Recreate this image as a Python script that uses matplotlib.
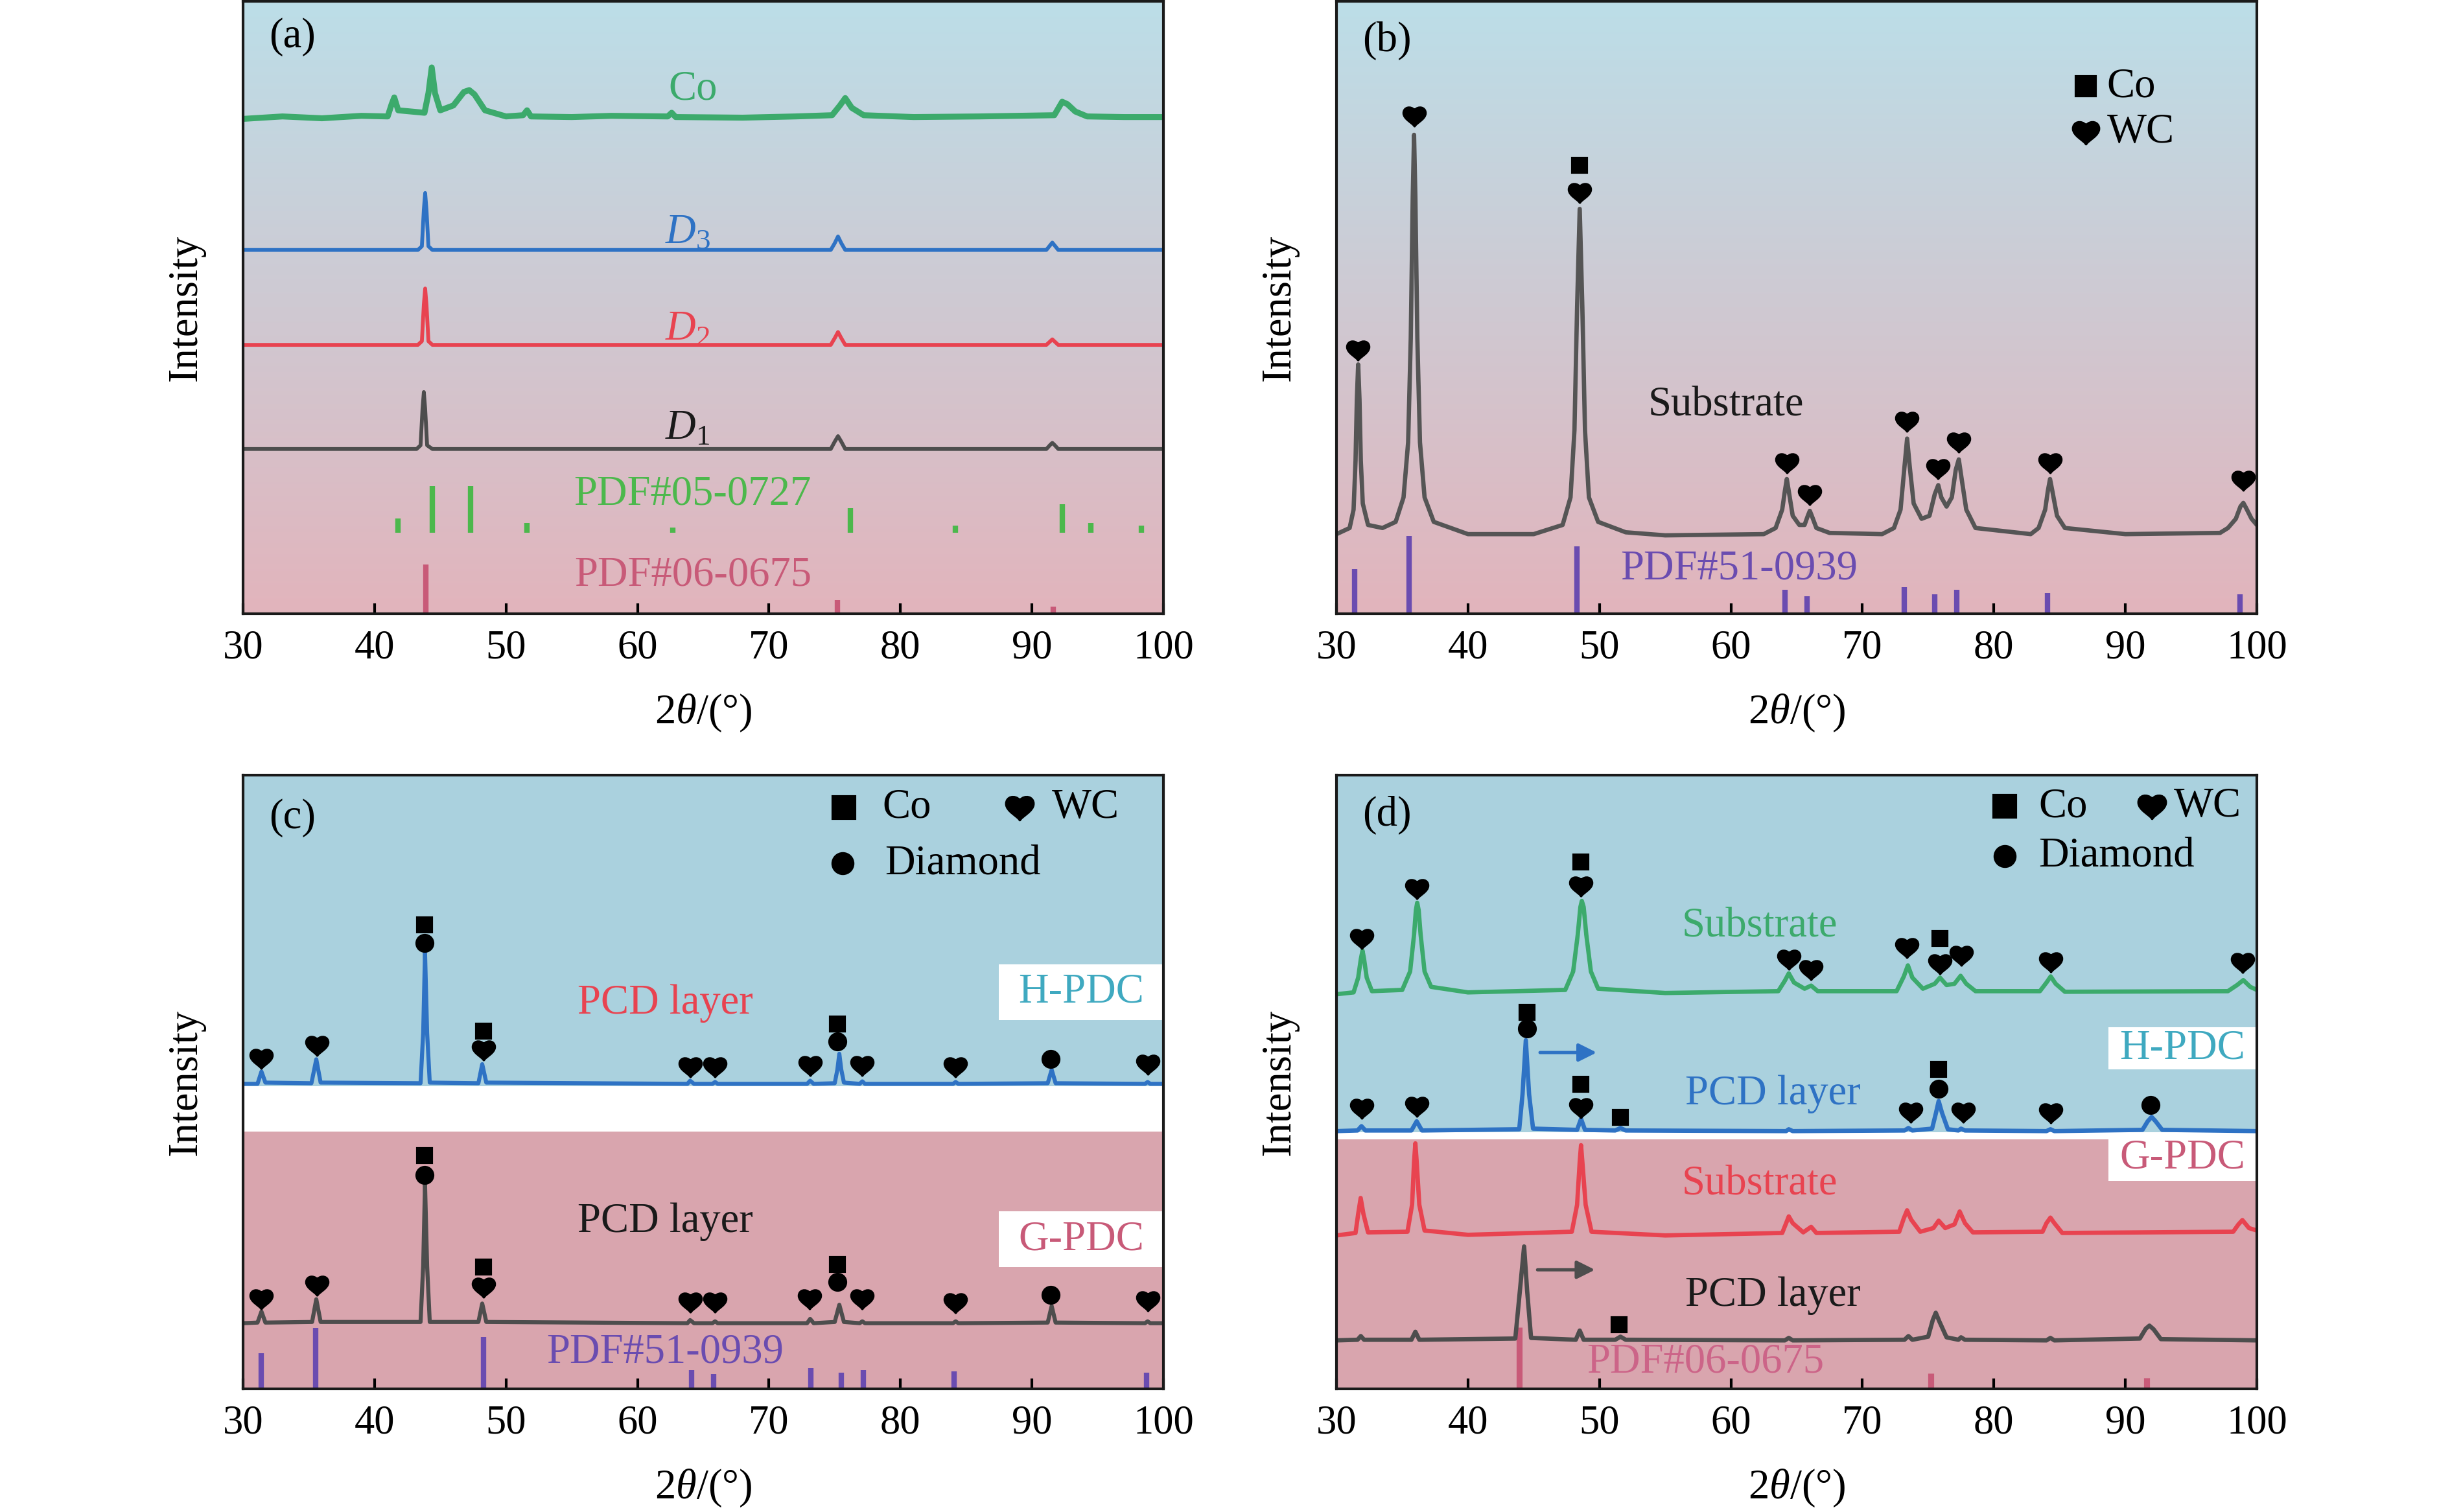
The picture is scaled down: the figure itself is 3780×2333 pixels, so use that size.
import numpy as np
import matplotlib
matplotlib.use("Agg")
import matplotlib.pyplot as plt
from matplotlib.path import Path
from matplotlib.patches import Rectangle

plt.rcParams['font.family'] = ['Liberation Serif', 'DejaVu Sans']
plt.rcParams['mathtext.fontset'] = 'custom'
plt.rcParams['mathtext.rm'] = 'Liberation Serif'
plt.rcParams['mathtext.it'] = 'Liberation Serif:italic'
plt.rcParams['mathtext.bf'] = 'Liberation Serif:bold'

# ---------------- data (2theta, relative intensity) ----------------
# panel (a)
a_co = [(30, .808), (33, .812), (36, .809), (39, .813), (41.0, .812), (41.3, .832), (41.5, .843), (41.8, .822),
        (43.8, .818), (44.1, .85), (44.35, .892), (44.6, .85), (45.0, .822), (46.0, .83), (46.8, .852),
        (47.2, .855), (47.6, .848), (48.4, .822), (50, .812), (51.3, .814), (51.6, .822), (51.9, .812),
        (55, .811), (58, .813), (62.3, .812), (62.6, .818), (62.9, .811), (68, .81), (72, .812), (74.8, .814),
        (75.4, .83), (75.8, .842), (76.3, .826), (77.2, .814), (81, .811), (86, .812), (91.7, .814),
        (92.3, .836), (92.7, .832), (93.3, .82), (94.2, .812), (97, .811), (100, .811)]
a_d3 = [(30, .594), (43.3, .594), (43.6, .60), (43.75, .66), (43.85, .687), (43.95, .66), (44.1, .60), (44.4, .594),
        (74.7, .594), (75.0, .605), (75.25, .616), (75.5, .605), (75.8, .594), (91.1, .594), (91.4, .602),
        (91.55, .606), (91.7, .602), (92.0, .594), (100, .594)]
a_d2 = [(30, .439), (43.3, .439), (43.6, .445), (43.75, .505), (43.85, .531), (43.95, .505), (44.1, .445), (44.4, .439),
        (74.7, .439), (75.0, .450), (75.25, .460), (75.5, .450), (75.8, .439), (91.1, .439), (91.4, .445),
        (91.55, .448), (91.7, .445), (92.0, .439), (100, .439)]
a_d1 = [(30, .269), (43.2, .269), (43.5, .275), (43.65, .335), (43.75, .362), (43.85, .335), (44.0, .275), (44.4, .269),
        (74.7, .269), (75.0, .281), (75.25, .290), (75.5, .281), (75.8, .269), (91.1, .269), (91.4, .276),
        (91.55, .279), (91.7, .276), (92.0, .269), (100, .269)]
pdf0727_pos = [41.8, 44.4, 47.3, 51.6, 62.7, 76.2, 84.2, 92.3, 94.5, 98.3]
pdf0727_top = [.156, .208, .208, .148, .141, .173, .144, .179, .148, .144]
pdf0727_base = .132
pdf0675_pos = [43.9, 75.2, 91.6]
pdf0675_top_a = [.08, .022, .012]
pdf0675_top_d = [.10, .025, .018]

# panel (b)
b_sub = [(30, .13), (31.0, .14), (31.3, .17), (31.45, .25), (31.55, .35), (31.65, .407), (31.75, .35),
         (31.85, .25), (32.0, .18), (32.4, .145), (33.5, .14), (34.5, .15), (35.1, .19), (35.45, .28),
         (35.65, .45), (35.8, .68), (35.9, .782), (36.0, .68), (36.15, .45), (36.35, .28), (36.7, .19),
         (37.4, .15), (40, .13), (45, .13), (47.2, .145), (47.8, .19), (48.1, .3), (48.3, .5), (48.5, .661),
         (48.7, .5), (48.9, .3), (49.2, .19), (49.9, .15), (52, .133), (55, .128), (62.5, .13), (63.4, .14),
         (63.9, .17), (64.1, .2), (64.25, .22), (64.4, .2), (64.7, .16), (65.2, .145), (65.6, .145),
         (65.85, .16), (66.0, .168), (66.15, .16), (66.5, .14), (67.5, .132), (71.5, .13), (72.4, .14),
         (72.9, .17), (73.2, .24), (73.4, .286), (73.6, .24), (73.9, .18), (74.5, .155), (75.1, .16),
         (75.5, .195), (75.77, .21), (76.0, .19), (76.4, .175), (76.8, .19), (77.1, .235), (77.33, .252),
         (77.55, .22), (77.9, .17), (78.6, .14), (82.8, .13), (83.4, .14), (83.9, .17), (84.1, .2),
         (84.27, .22), (84.45, .2), (84.8, .16), (85.4, .14), (90, .13), (97.2, .132), (97.8, .14),
         (98.4, .155), (98.75, .175), (98.97, .181), (99.2, .172), (99.6, .155), (100, .145)]
wc_pos = [31.4, 35.5, 48.3, 64.1, 65.8, 73.2, 75.5, 77.2, 84.1, 98.7]
wc_top_b = [.073, .127, .11, .039, .029, .043, .032, .039, .034, .032]
wc_top_c = [.058, .099, .085, .031, .024, .034, .026, .031, .028, .026]
b_hearts = [(31.65, .431), (35.9, .813), (48.5, .688), (64.25, .247), (66.0, .195), (73.4, .314),
            (75.77, .237), (77.33, .28), (84.27, .247), (98.97, .218)]
b_squares = [(48.5, .732)]

# panel (c)
c_h = [(30, .497), (31.1, .497), (31.4, .517), (31.7, .499), (35.2, .498), (35.57, .537), (35.9, .499),
       (43.5, .498), (43.7, .58), (43.84, .711), (44.0, .58), (44.2, .499), (47.9, .498), (48.19, .529),
       (48.5, .499), (63.8, .497), (64.0, .502), (64.3, .497), (65.7, .497), (65.9, .500), (66.1, .497),
       (72.9, .497), (73.13, .502), (73.4, .497), (75.0, .498), (75.2, .52), (75.35, .546), (75.5, .52),
       (75.7, .499), (76.9, .497), (77.1, .501), (77.3, .497), (84.0, .497), (84.2, .5), (84.4, .497),
       (91.2, .498), (91.5, .52), (91.8, .498), (98.6, .497), (98.8, .5), (99.0, .497), (100, .497)]
c_g = [(30, .107), (31.1, .108), (31.4, .126), (31.7, .108), (35.25, .109), (35.57, .146), (35.9, .109),
       (43.5, .109), (43.7, .2), (43.84, .333), (44.0, .2), (44.2, .109), (47.9, .109), (48.19, .139),
       (48.5, .109), (63.8, .107), (64.0, .112), (64.3, .107), (65.7, .107), (65.9, .11), (66.1, .107),
       (72.9, .107), (73.13, .114), (73.4, .107), (75.0, .109), (75.2, .125), (75.35, .137), (75.5, .125),
       (75.7, .109), (76.9, .107), (77.1, .11), (77.3, .107), (84.0, .107), (84.2, .11), (84.4, .107),
       (91.2, .108), (91.5, .135), (91.8, .108), (98.6, .107), (98.8, .11), (99.0, .107), (100, .107)]
c_hearts = [(31.4, .539), (35.6, .56), (48.3, .552), (64.0, .525), (65.9, .525), (73.13, .527), (77.1, .527),
            (84.2, .525), (98.8, .529),
            (31.4, .147), (35.6, .169), (48.3, .166), (64.0, .142), (65.9, .142), (73.1, .147), (77.1, .147),
            (84.2, .14), (98.8, .144)]
c_squares = [(43.8, .756), (48.3, .583), (75.2, .594), (43.8, .38), (48.3, .198), (75.2, .203)]
c_circles = [(43.8, .726), (75.2, .566), (91.4, .537), (43.8, .348), (75.2, .174), (91.4, .153)]

# panel (d)
d_green = [(30, .643), (31.3, .646), (31.65, .67), (31.85, .70), (31.98, .714), (32.1, .70), (32.3, .67),
           (32.7, .648), (35.0, .65), (35.6, .68), (35.9, .74), (36.04, .78), (36.14, .792), (36.25, .78),
           (36.4, .74), (36.7, .68), (37.2, .655), (40, .646), (47.4, .65), (48.0, .68), (48.35, .74),
           (48.55, .785), (48.66, .795), (48.8, .785), (49.0, .74), (49.35, .68), (49.9, .652), (55, .645),
           (63.6, .648), (64.1, .665), (64.4, .677), (64.8, .662), (65.6, .652), (66.1, .657), (66.6, .648),
           (72.6, .648), (73.15, .672), (73.46, .69), (73.8, .67), (74.6, .652), (75.5, .66), (75.9, .67),
           (76.4, .658), (77.0, .66), (77.47, .673), (77.9, .66), (78.6, .648), (83.5, .648), (84.0, .662),
           (84.32, .672), (84.7, .66), (85.4, .647), (97.8, .648), (98.5, .658), (98.97, .666), (99.5, .655),
           (100, .65)]
d_blue = [(30, .42), (31.6, .421), (31.9, .428), (32.2, .421), (35.7, .421), (36.1, .436), (36.5, .421),
          (43.9, .423), (44.15, .48), (44.4, .568), (44.65, .48), (44.95, .424), (48.3, .422), (48.6, .44),
          (48.9, .422), (51.2, .421), (51.6, .425), (52.0, .421), (64.2, .42), (64.4, .423), (64.7, .42),
          (73.2, .421), (73.5, .425), (73.8, .421), (75.3, .424), (75.6, .45), (75.8, .469), (76.05, .45),
          (76.5, .423), (77.3, .421), (77.5, .424), (77.8, .421), (84.0, .42), (84.3, .423), (84.6, .42),
          (91.3, .422), (91.7, .436), (92.0, .443), (92.3, .436), (92.8, .422), (100, .42)]
d_red = [(30, .25), (31.45, .254), (31.65, .285), (31.84, .311), (32.05, .285), (32.4, .255), (35.4, .256),
         (35.75, .30), (35.9, .37), (36.0, .40), (36.1, .37), (36.3, .30), (36.7, .258), (40, .251),
         (47.9, .256), (48.3, .30), (48.5, .37), (48.6, .397), (48.7, .37), (48.95, .30), (49.4, .256),
         (55, .25), (63.9, .254), (64.2, .27), (64.4, .281), (64.7, .27), (65.5, .255), (66.1, .264),
         (66.5, .254), (72.8, .256), (73.15, .278), (73.4, .291), (73.7, .276), (74.4, .256), (75.4, .262),
         (75.8, .274), (76.3, .262), (77.0, .268), (77.4, .289), (77.8, .27), (78.4, .255), (83.7, .256),
         (84.0, .27), (84.3, .279), (84.6, .27), (85.2, .254), (98.2, .256), (98.6, .268), (98.9, .275),
         (99.4, .262), (100, .258)]
d_gray = [(30, .079), (31.6, .08), (31.85, .086), (32.1, .08), (35.7, .08), (36.0, .093), (36.3, .08),
          (43.6, .082), (43.95, .16), (44.27, .232), (44.5, .16), (44.8, .083), (48.2, .08), (48.5, .095),
          (48.8, .08), (51.2, .08), (51.6, .085), (52.0, .08), (64.1, .079), (64.4, .083), (64.7, .079),
          (73.2, .08), (73.5, .086), (73.8, .08), (75.0, .085), (75.35, .112), (75.58, .124), (75.85, .11),
          (76.4, .084), (77.3, .08), (77.5, .084), (77.8, .08), (84.0, .079), (84.3, .083), (84.6, .079),
          (91.1, .082), (91.55, .098), (91.83, .103), (92.15, .097), (92.7, .081), (100, .079)]
d_hearts = [(31.9, .734), (36.1, .815), (48.6, .819), (64.4, .70), (66.1, .683), (73.4, .719), (75.9, .693),
            (77.5, .706), (84.3, .696), (98.9, .695),
            (31.9, .457), (36.1, .46), (48.6, .458), (73.7, .451), (77.66, .451), (84.3, .45)]
d_squares = [(48.6, .858), (75.9, .734), (44.5, .614), (48.6, .496), (51.6, .442), (75.8, .521), (51.5, .105)]
d_circles = [(44.5, .587), (75.8, .489), (91.9, .463)]

xticks = [30, 40, 50, 60, 70, 80, 90, 100]

# ---------------- style ----------------
C_GREEN = '#3caa6c'
C_BLUE = '#2e72c4'
C_RED = '#e84350'
C_GRAY = '#4d4d4d'
C_STICK_G = '#4cb84c'
C_PINK = '#c85a78'
C_PURPLE = '#6a4cb0'
C_TEAL = '#3fa9c0'
BG_BLUE = '#aad1de'
BG_PINK = '#d9a5ae'
FS = 15.5

# card-suit heart, point down
hv = [(0, -0.9), (-0.12, -0.62), (-1, -0.25), (-1, 0.3), (-1, 0.8), (-0.4, 0.98), (0, 0.55),
      (0.4, 0.98), (1, 0.8), (1, 0.3), (1, -0.25), (0.12, -0.62), (0, -0.9), (0, -0.9)]
hc = [Path.MOVETO] + [Path.CURVE4] * 12 + [Path.CLOSEPOLY]
HEART = Path(hv, hc)

fig = plt.figure(figsize=(12.6, 2333 / 300), dpi=300)
W, H = 3780, 2333


def make_ax(l, r, t, b):
    return fig.add_axes([l / W, 1 - b / H, (r - l) / W, (b - t) / H])


axa = make_ax(375, 1795, 2, 947)
axb = make_ax(2062, 3482, 2, 947)
axc = make_ax(375, 1795, 1196, 2143)
axd = make_ax(2062, 3482, 1196, 2143)

for ax in (axa, axb, axc, axd):
    ax.set_xlim(30, 100)
    ax.set_ylim(0, 1)
    ax.set_xticks(xticks)
    ax.set_yticks([])
    ax.tick_params(axis='x', direction='in', length=3.8, width=1.0, labelsize=15, pad=6, top=False)
    for s in ax.spines.values():
        s.set_linewidth(1.0)
        s.set_color('#1a1a1a')
        s.set_zorder(10)
    ax.set_xlabel(r'2$\theta$/(°)', fontsize=FS, labelpad=9)
    ax.set_ylabel('Intensity', fontsize=FS, labelpad=14)


def gradient_bg(ax):
    top = np.array([188, 222, 232]) / 255
    bot = np.array([226, 180, 188]) / 255
    t = np.linspace(0, 1, 256)[:, None]
    img = top[None, :] * (1 - t) + bot[None, :] * t
    img = img[:, None, :]
    ax.imshow(img, extent=[30, 100, 0, 1], aspect='auto', origin='upper', zorder=0, interpolation='bilinear')
    ax.set_xlim(30, 100)
    ax.set_ylim(0, 1)


def curve(ax, pts, color, lw):
    x, y = zip(*pts)
    ax.plot(x, y, color=color, lw=lw, zorder=3, solid_joinstyle='round')


def marks(ax, pts, marker, ms, color='k'):
    if not pts:
        return
    x, y = zip(*pts)
    ax.plot(x, y, ls='none', marker=marker, ms=ms, color=color, mec=color, zorder=5)


# ---- (a)
gradient_bg(axa)
curve(axa, a_co, C_GREEN, 2.2)
curve(axa, a_d3, C_BLUE, 1.4)
curve(axa, a_d2, C_RED, 1.4)
curve(axa, a_d1, C_GRAY, 1.4)
axa.vlines(pdf0727_pos, pdf0727_base, pdf0727_top, color=C_STICK_G, lw=2.0, zorder=2)
axa.vlines(pdf0675_pos, 0, pdf0675_top_a, color=C_PINK, lw=2.0, zorder=2)
axa.text(32.0, .942, '(a)', fontsize=FS, va='center', ha='left')
axa.text(64.2, .856, 'Co', color=C_GREEN, fontsize=FS, ha='center', va='center')
axa.text(63.8, .622, r'$D_3$', color=C_BLUE, fontsize=FS, ha='center', va='center')
axa.text(63.8, .464, r'$D_2$', color=C_RED, fontsize=FS, ha='center', va='center')
axa.text(63.8, .302, r'$D_1$', color='#1a1a1a', fontsize=FS, ha='center', va='center')
axa.text(64.2, .195, 'PDF#05-0727', color=C_STICK_G, fontsize=FS, ha='center', va='center')
axa.text(64.2, .063, 'PDF#06-0675', color=C_PINK, fontsize=FS, ha='center', va='center')

# ---- (b)
gradient_bg(axb)
curve(axb, b_sub, '#555555', 1.6)
axb.vlines(wc_pos, 0, wc_top_b, color=C_PURPLE, lw=2.0, zorder=2)
marks(axb, b_hearts, HEART, 8)
marks(axb, b_squares, 's', 5.5)
axb.text(32.0, .935, '(b)', fontsize=FS, va='center', ha='left')
axb.text(59.6, .341, 'Substrate', fontsize=FS, ha='center', va='center', color='#1a1a1a')
axb.text(60.6, .073, 'PDF#51-0939', color=C_PURPLE, fontsize=FS, ha='center', va='center')
marks(axb, [(87.0, .861)], 's', 7)
marks(axb, [(87.0, .786)], HEART, 9.5)
axb.text(88.6, .861, 'Co', fontsize=FS, ha='left', va='center')
axb.text(88.6, .786, 'WC', fontsize=FS, ha='left', va='center')

# ---- (c)
axc.axhspan(0.493, 1, color=BG_BLUE, zorder=0, lw=0)
axc.axhspan(0, 0.419, color=BG_PINK, zorder=0, lw=0)
axc.add_patch(Rectangle((87.5, .601), 12.5, .091, color='white', zorder=1, lw=0))
axc.add_patch(Rectangle((87.5, .198), 12.5, .091, color='white', zorder=1, lw=0))
curve(axc, c_h, C_BLUE, 1.5)
curve(axc, c_g, C_GRAY, 1.5)
axc.vlines(wc_pos, 0, wc_top_c, color=C_PURPLE, lw=2.0, zorder=2)
marks(axc, c_hearts, HEART, 8)
marks(axc, c_squares, 's', 5.5)
marks(axc, c_circles, 'o', 6)
axc.text(32.0, .93, '(c)', fontsize=FS, va='center', ha='left')
axc.text(62.1, .628, 'PCD layer', color=C_RED, fontsize=FS, ha='center', va='center')
axc.text(62.1, .272, 'PCD layer', color='#1a1a1a', fontsize=FS, ha='center', va='center')
axc.text(93.75, .647, 'H-PDC', color=C_TEAL, fontsize=FS, ha='center', va='center')
axc.text(93.75, .243, 'G-PDC', color=C_PINK, fontsize=FS, ha='center', va='center')
axc.text(62.1, .059, 'PDF#51-0939', color=C_PURPLE, fontsize=FS, ha='center', va='center')
marks(axc, [(75.7, .947)], 's', 8)
marks(axc, [(89.05, .947)], HEART, 10)
marks(axc, [(75.6, .856)], 'o', 7.5)
axc.text(78.6, .947, 'Co', fontsize=FS, ha='left', va='center')
axc.text(91.5, .947, 'WC', fontsize=FS, ha='left', va='center')
axc.text(78.8, .856, 'Diamond', fontsize=FS, ha='left', va='center')

# ---- (d)
axd.axhspan(0.418, 1, color=BG_BLUE, zorder=0, lw=0)
axd.axhspan(0, 0.407, color=BG_PINK, zorder=0, lw=0)
axd.add_patch(Rectangle((88.7, .521), 11.3, .068, color='white', zorder=1, lw=0))
axd.add_patch(Rectangle((88.7, .339), 11.3, .079, color='white', zorder=1, lw=0))
curve(axd, d_green, C_GREEN, 1.6)
curve(axd, d_blue, C_BLUE, 1.6)
curve(axd, d_red, C_RED, 1.6)
curve(axd, d_gray, C_GRAY, 1.6)
axd.vlines(pdf0675_pos, 0, pdf0675_top_d, color=C_PINK, lw=2.2, zorder=2)
marks(axd, d_hearts, HEART, 8)
marks(axd, d_squares, 's', 5.5)
marks(axd, d_circles, 'o', 6)
axd.annotate('', xy=(50.2, .548), xytext=(45.07, .548),
             arrowprops=dict(arrowstyle='-|>', color=C_BLUE, lw=1.2, mutation_scale=14), zorder=6)
axd.annotate('', xy=(50.07, .194), xytext=(44.88, .194),
             arrowprops=dict(arrowstyle='-|>', color=C_GRAY, lw=1.2, mutation_scale=14), zorder=6)
axd.text(32.0, .935, '(d)', fontsize=FS, va='center', ha='left')
axd.text(62.2, .754, 'Substrate', color=C_GREEN, fontsize=FS, ha='center', va='center')
axd.text(63.2, .48, 'PCD layer', color=C_BLUE, fontsize=FS, ha='center', va='center')
axd.text(62.2, .334, 'Substrate', color=C_RED, fontsize=FS, ha='center', va='center')
axd.text(63.2, .152, 'PCD layer', color='#1a1a1a', fontsize=FS, ha='center', va='center')
axd.text(58.06, .044, 'PDF#06-0675', color='#cc6488', fontsize=FS, ha='center', va='center')
axd.text(94.35, .555, 'H-PDC', color=C_TEAL, fontsize=FS, ha='center', va='center')
axd.text(94.35, .376, 'G-PDC', color=C_PINK, fontsize=FS, ha='center', va='center')
marks(axd, [(80.8, .949)], 's', 8)
marks(axd, [(92.0, .949)], HEART, 10)
marks(axd, [(80.8, .868)], 'o', 7.5)
axd.text(83.4, .949, 'Co', fontsize=FS, ha='left', va='center')
axd.text(93.7, .949, 'WC', fontsize=FS, ha='left', va='center')
axd.text(83.4, .868, 'Diamond', fontsize=FS, ha='left', va='center')

fig.savefig('out.png', dpi=300, facecolor='white')
